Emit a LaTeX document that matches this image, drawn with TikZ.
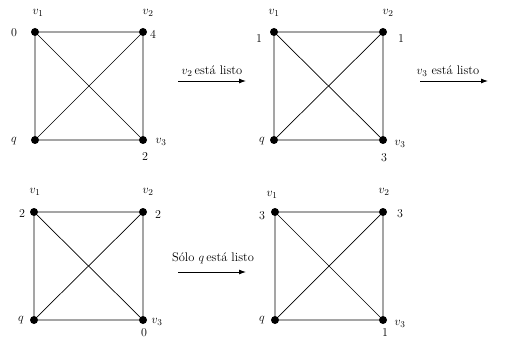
\documentclass[tikz,border=0pt]{standalone}
\usetikzlibrary{arrows.meta}
\begin{document}
\begin{tikzpicture}[x=1pt,y=-1pt,
  vert/.style={circle,fill=black,inner sep=0pt,minimum size=8pt},
  edge/.style={line width=0.7pt},
  lbl/.style={inner sep=0pt,font=\fontsize{13}{15}\selectfont},
  num/.style={inner sep=0pt,font=\fontsize{12}{14}\selectfont},
  arr/.style={line width=0.9pt,-{Latex[length=7pt,width=5pt]}},
  atext/.style={inner sep=0pt,font=\fontsize{12.5}{15}\selectfont}]
\useasboundingbox (0,0) rectangle (511,339);
% Graph 1
\node[vert] (a1) at (35,32) {};
\node[vert] (a2) at (143,32) {};
\node[vert] (aq) at (35,140) {};
\node[vert] (a3) at (143,140) {};
\draw[edge] (a1)--(a2) (a2)--(a3) (a3)--(aq) (aq)--(a1) (a1)--(a3) (a2)--(aq);
\node[lbl] (la1) at (38,13) {$v_1$};
\node[lbl] (la2) at (148,13) {$v_2$};
\node[lbl] (laq) at (14,141) {$q$};
\node[lbl] (la3) at (161,142) {$v_3$};
\node[num] (na1) at (14,33) {0};
\node[num] (na2) at (153,34) {4};
\node[num] (na3) at (145,157) {2};
% Graph 2
\node[vert] (b1) at (274,32) {};
\node[vert] (b2) at (383,32) {};
\node[vert] (bq) at (274,140) {};
\node[vert] (b3) at (383,140) {};
\draw[edge] (b1)--(b2) (b2)--(b3) (b3)--(bq) (bq)--(b1) (b1)--(b3) (b2)--(bq);
\node[lbl] (lb1) at (274,13) {$v_1$};
\node[lbl] (lb2) at (388,13) {$v_2$};
\node[lbl] (lbq) at (262,141) {$q$};
\node[lbl] (lb3) at (400,144) {$v_3$};
\node[num] (nb1) at (259,39) {1};
\node[num] (nb2) at (401,39) {1};
\node[num] (nb3) at (384,158) {3};
% Graph 3
\node[vert] (c1) at (34,212) {};
\node[vert] (c2) at (143,212) {};
\node[vert] (cq) at (34,320) {};
\node[vert] (c3) at (143,320) {};
\draw[edge] (c1)--(c2) (c2)--(c3) (c3)--(cq) (cq)--(c1) (c1)--(c3) (c2)--(cq);
\node[lbl] (lc1) at (35,192) {$v_1$};
\node[lbl] (lc2) at (148,192) {$v_2$};
\node[lbl] (lcq) at (21,320) {$q$};
\node[lbl] (lc3) at (157,322) {$v_3$};
\node[num] (nc1) at (22,214) {2};
\node[num] (nc2) at (158,215) {2};
\node[num] (nc3) at (144,333) {0};
% Graph 4
\node[vert] (d1) at (275,212) {};
\node[vert] (d2) at (383,212) {};
\node[vert] (dq) at (275,320) {};
\node[vert] (d3) at (383,320) {};
\draw[edge] (d1)--(d2) (d2)--(d3) (d3)--(dq) (dq)--(d1) (d1)--(d3) (d2)--(dq);
\node[lbl] (ld1) at (272,195) {$v_1$};
\node[lbl] (ld2) at (384,192) {$v_2$};
\node[lbl] (ldq) at (262,320) {$q$};
\node[lbl] (ld3) at (400,324) {$v_3$};
\node[num] (nd1) at (262,216) {3};
\node[num] (nd2) at (400,214) {3};
\node[num] (nd3) at (385,333) {1};
% Arrows
\coordinate (s1) at (178,81);
\coordinate (e1) at (246,81);
\draw[arr] (s1) -- (e1);
\node[atext] (t1) at (212,71) {$v_2$\,está listo};
\coordinate (s2) at (420,81);
\coordinate (e2) at (488,81);
\draw[arr] (s2) -- (e2);
\node[atext] (t2) at (448,71) {$v_3$ está listo};
\coordinate (s3) at (178,272);
\coordinate (e3) at (246,272);
\draw[arr] (s3) -- (e3);
\node[atext] (t3) at (213,258) {Sólo $q$\,está listo};
\end{tikzpicture}
\end{document}
